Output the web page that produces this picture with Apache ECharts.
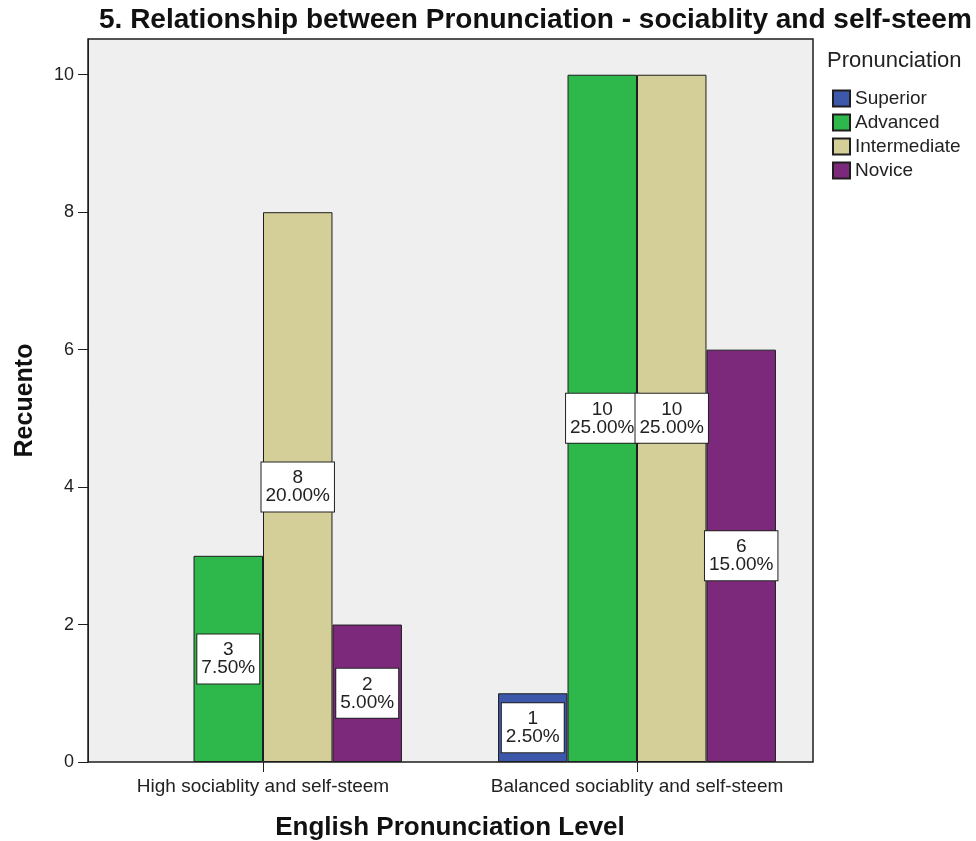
<!DOCTYPE html>
<html>
<head>
<meta charset="utf-8">
<script src="https://cdn.jsdelivr.net/npm/echarts@6/dist/echarts.min.js"></script>
<style>
  html, body { margin: 0; padding: 0; background: #fff; }
  #chart { width: 976px; height: 841px; }
</style>
</head>
<body>
<div id="chart"></div>
<script>
const categories = ["High sociablity and self-steem", "Balanced sociablity and self-steem"];
const levels = ["Superior", "Advanced", "Intermediate", "Novice"];
const superior = [null, 1];
const advanced = [3, 10];
const intermediate = [8, 10];
const novice = [2, 6];
const total = 40;
const yTicks = [0, 2, 4, 6, 8, 10];

const colors = ["#3d57ab", "#2eb84b", "#d4cf98", "#7c297b"];
const font = "Arial, 'Liberation Sans', sans-serif";

const chart = echarts.init(document.getElementById("chart"));

function barSeries(name, values, color) {
  return {
    name,
    type: "bar",
    xAxisIndex: 1,
    yAxisIndex: 1,
    data: values,
    barGap: "0%",
    barCategoryGap: "25.7%",
    itemStyle: { color, borderColor: "#1e1e1e", borderWidth: 1 },
    label: {
      show: true,
      position: "inside",
      formatter: (p) => p.value + "\n" + ((p.value / total) * 100).toFixed(2) + "%",
      fontFamily: font,
      fontSize: 19,
      lineHeight: 18,
      color: "#222",
      backgroundColor: "#fff",
      borderColor: "#222",
      borderWidth: 1,
      padding: [7, 4, 6, 4],
    },
  };
}

chart.setOption({
  animation: false,
  title: [
    {
      text: "5. Relationship between Pronunciation - sociablity and self-steem",
      left: 99,
      top: 6,
      padding: 0,
      textStyle: { fontFamily: font, fontSize: 28, fontWeight: "bold", color: "#111" },
    },
    {
      text: "Pronunciation",
      left: 827,
      top: 50,
      padding: 0,
      textStyle: { fontFamily: font, fontSize: 22, fontWeight: "normal", color: "#222" },
    },
  ],
  legend: {
    orient: "vertical",
    left: 832,
    top: 89,
    padding: 0,
    itemWidth: 17,
    itemHeight: 16,
    itemGap: 5,
    icon: "rect",
    data: levels,
    textStyle: { fontFamily: font, fontSize: 19, lineHeight: 16, color: "#222" },
  },
  grid: [
    // frame of the plot area
    {
      show: true,
      left: 88,
      right: 163,
      top: 39,
      bottom: 79,
      outerBoundsMode: "none",
      backgroundColor: "#efefef",
      borderColor: "#1e1e1e",
      borderWidth: 1.5,
    },
    // data grid, a little wider than the frame like SPSS does
    { left: 76, right: 152, top: 39, bottom: 79, outerBoundsMode: "none" },
  ],
  xAxis: [
    { gridIndex: 0, type: "category", show: false, data: categories },
    {
      gridIndex: 1,
      type: "category",
      data: categories,
      name: "English Pronunciation Level",
      nameLocation: "middle",
      nameGap: 53,
      nameTextStyle: { fontFamily: font, fontSize: 26, fontWeight: "bold", color: "#111" },
      axisLine: { show: false },
      axisTick: { show: true, interval: 0, alignWithLabel: true, length: 10, lineStyle: { color: "#1e1e1e" } },
      axisLabel: { interval: 0, hideOverlap: false, fontFamily: font, fontSize: 19, color: "#222", margin: 15 },
    },
  ],
  yAxis: [
    { gridIndex: 0, type: "value", show: false, min: 0, max: 10.52 },
    {
      gridIndex: 1,
      type: "value",
      min: 0,
      max: 10.52,
      offset: -12,
      name: "Recuento",
      nameLocation: "middle",
      nameGap: 50,
      nameTextStyle: { fontFamily: font, fontSize: 25, fontWeight: "bold", color: "#111" },
      splitLine: { show: false },
      axisLine: { show: true, lineStyle: { color: "#1e1e1e" } },
      axisTick: { show: true, length: 10, customValues: yTicks, lineStyle: { color: "#1e1e1e" } },
      axisLabel: { fontFamily: font, fontSize: 18, color: "#222", margin: 14, customValues: yTicks },
    },
  ],
  series: [
    barSeries(levels[0], superior, colors[0]),
    barSeries(levels[1], advanced, colors[1]),
    barSeries(levels[2], intermediate, colors[2]),
    barSeries(levels[3], novice, colors[3]),
  ],
});
</script>
</body>
</html>
